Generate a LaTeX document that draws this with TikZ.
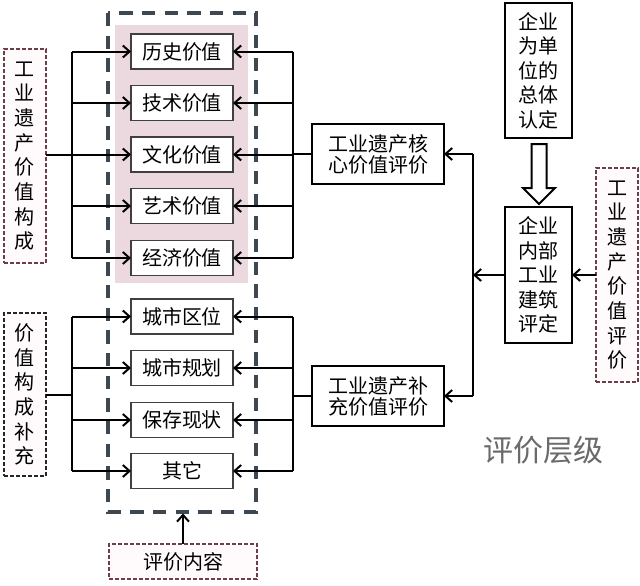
\documentclass[tikz,border=0pt]{standalone}
\usepackage{fontspec}
\setmainfont{Noto Sans CJK SC}
\usetikzlibrary{arrows.meta}
\definecolor{outerdash}{HTML}{3E4852}
\definecolor{pinkbg}{HTML}{EBD9DF}
\definecolor{reddash}{HTML}{6E3E46}
\definecolor{labelfill}{HTML}{FFFAFB}
\definecolor{graytxt}{HTML}{6A6A6A}
\begin{document}
\begin{tikzpicture}[x=0.75pt,y=-0.75pt,
  every node/.style={inner sep=0pt, outer sep=0pt},
  valbox/.style={draw=black!75, fill=white, line width=1pt, minimum width=76.5pt, minimum height=26.25pt, font=\fontsize{15}{18}\selectfont},
  evalbox/.style={draw=black, fill=white, line width=1.6pt, minimum width=99pt, minimum height=45pt, align=center, font=\fontsize{15}{15.8}\selectfont},
  entbox/.style={draw=black, fill=white, line width=1.6pt, minimum width=50.25pt, align=center, font=\fontsize{15}{18.4}\selectfont},
  lblbox/.style={draw=reddash, fill=labelfill, line width=1.5pt, dash pattern=on 3pt off 1.5pt, minimum width=31.5pt, align=center, font=\fontsize{15}{18.5}\selectfont},
  conn/.style={line width=1.5pt, black},
  arr/.style={conn, -{Straight Barb[length=5pt,width=9pt,line width=1.5pt]}}
]
\useasboundingbox (0,0) rectangle (640,586);
% outer region
\fill[pinkbg] (115,25) rectangle (248,283);
\draw[outerdash, line width=2.4pt, dash pattern=on 10pt off 7pt] (108,13) rectangle (256,512);
% value boxes
\node[valbox] (v1) at (182,51.5) {历史价值};
\node[valbox] (v2) at (182,103) {技术价值};
\node[valbox] (v3) at (182,154.5) {文化价值};
\node[valbox] (v4) at (182,206) {艺术价值};
\node[valbox] (v5) at (182,258) {经济价值};
\node[valbox] (c1) at (182,316.5) {城市区位};
\node[valbox] (c2) at (182,368) {城市规划};
\node[valbox] (c3) at (182,420) {保存现状};
\node[valbox] (c4) at (182,471) {其它};
% left labels
\node[lblbox, minimum height=160.5pt] (L1) at (25,156) {工\\业\\遗\\产\\价\\值\\构\\成};
\node[lblbox, draw=black!85, minimum height=122.25pt] (L2) at (25,394.5) {价\\值\\构\\成\\补\\充};
\node[lblbox, minimum width=111pt, minimum height=26.25pt] (nr) at (183,561.5) {评价内容};
% evaluation boxes
\node[evalbox] (core) at (378,154) {工业遗产核\\心价值评价};
\node[evalbox] (supp) at (378,396) {工业遗产补\\充价值评价};
\node[entbox, minimum height=101.25pt] (top) at (538.5,70.5) {企业\\为单\\位的\\总体\\认定};
\node[entbox, minimum height=102pt] (inner) at (538.5,275) {企业\\内部\\工业\\建筑\\评定};
\node[lblbox, minimum height=160.5pt] (R) at (617,275) {工\\业\\遗\\产\\价\\值\\评\\价};
\node[text=graytxt, font=\fontsize{22.5}{24}\selectfont] (lv) at (543,450) {评价层级};
% coordinates
\coordinate (bl) at (72,0);
\coordinate (br) at (293,0);
\coordinate (vr) at (473,0);
\coordinate (ob) at (183,513.5);
% left buses
\draw[conn] (bl |- v1.west) -- (bl |- v5.west);
\foreach \n in {v1,v2,v4,v5} \draw[arr] (bl |- \n.west) -- (\n.west);
\draw[arr] (L1.east |- v3.west) -- (v3.west);
\draw[conn] (bl |- c1.west) -- (bl |- c4.west);
\foreach \n in {c1,c2,c3,c4} \draw[arr] (bl |- \n.west) -- (\n.west);
\draw[conn] (L2.east) -- (bl |- L2.east);
% right buses
\draw[conn] (br |- v1.east) -- (br |- v5.east);
\foreach \n in {v1,v2,v3,v4,v5} \draw[arr] (br |- \n.east) -- (\n.east);
\draw[conn] (core.west) -- (br |- core.west);
\draw[conn] (br |- c1.east) -- (br |- c4.east);
\foreach \n in {c1,c2,c3,c4} \draw[arr] (br |- \n.east) -- (\n.east);
\draw[conn] (supp.west) -- (br |- supp.west);
% right side
\draw[conn] (vr |- core.east) -- (vr |- supp.east);
\draw[arr] (vr |- core.east) -- (core.east);
\draw[arr] (vr |- supp.east) -- (supp.east);
\draw[arr] (inner.west) -- (vr |- inner.west);
\draw[arr] (R.west) -- (inner.east);
% hollow arrow
\draw[line width=1.5pt, fill=white, line join=miter]
  (531.5,144) -- (546.5,144) -- (546.5,188) -- (555,188) -- (539,204) -- (523,188) -- (531.5,188) -- cycle;
% bottom arrow
\draw[arr] (nr.north) -- (ob);
\end{tikzpicture}
\end{document}
